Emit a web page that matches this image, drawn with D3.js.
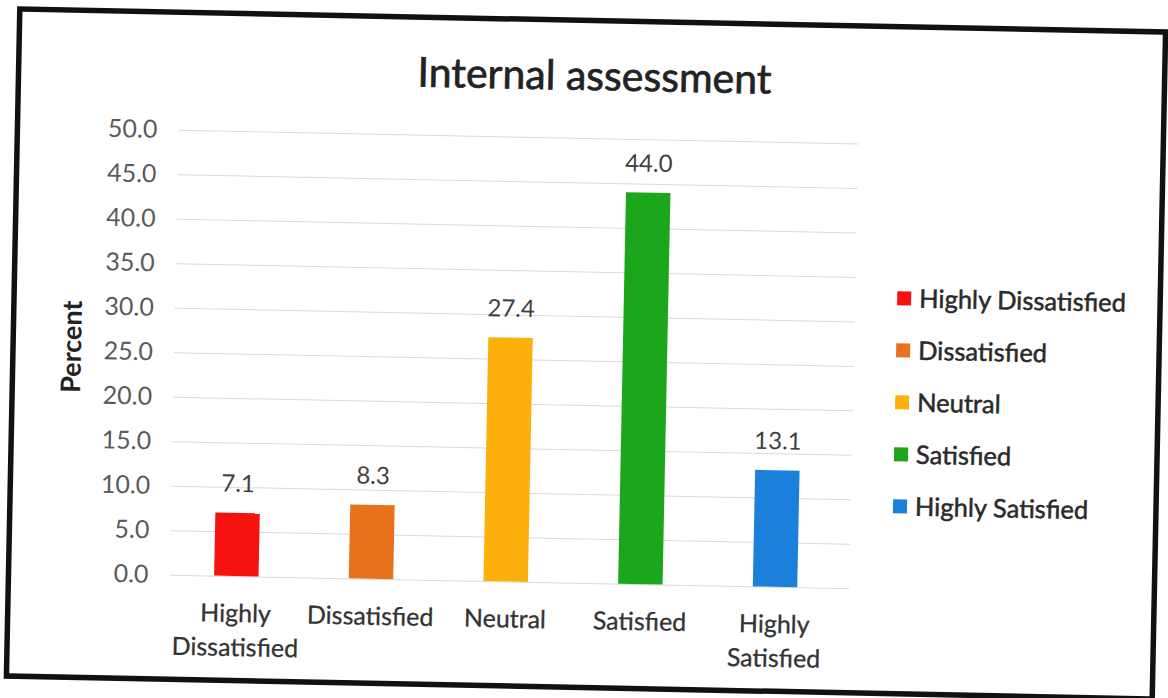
<!DOCTYPE html>
<html>
<head>
<meta charset="utf-8">
<script src="https://cdn.jsdelivr.net/npm/d3@7"></script>
<style>
  body { margin: 0; background: #fff; }
  text { font-family: Lato, "Liberation Sans", sans-serif; }
</style>
</head>
<body>
<div id="chart"></div>
<script>
// chart values
var categories = ["Highly Dissatisfied", "Dissatisfied", "Neutral", "Satisfied", "Highly Satisfied"];
var percents = [7.1, 8.3, 27.4, 44.0, 13.1];
var xLabelLines = [["Highly", "Dissatisfied"], ["Dissatisfied"], ["Neutral"], ["Satisfied"], ["Highly", "Satisfied"]];
var yTicks = [0, 5, 10, 15, 20, 25, 30, 35, 40, 45, 50];
var barColors = ["#f5120f", "#e8721c", "#fdb00c", "#1ba61b", "#1b80dc"];

var svgWidth = 1168;
var svgHeight = 698;

var plot = { left: 174, right: 854, top: 138, bottom: 583 };

var svg = d3.select("#chart")
  .append("svg")
  .attr("width", svgWidth)
  .attr("height", svgHeight);

// the scanned chart sits slightly tilted
var page = svg.append("g")
  .attr("transform", "rotate(1.15, 586, 354)");

page.append("rect")
  .attr("x", 13)
  .attr("y", 20.5)
  .attr("width", 1146)
  .attr("height", 667)
  .attr("fill", "#fff")
  .attr("stroke", "#111")
  .attr("stroke-width", 5.5);

page.append("text")
  .attr("x", 589)
  .attr("y", 90)
  .attr("text-anchor", "middle")
  .attr("font-size", 41)
  .attr("fill", "#222")
  .attr("stroke", "#222")
  .attr("stroke-width", 0.7)
  .text("Internal assessment");

// scales
var xScale = d3.scaleBand()
  .domain(categories)
  .range([173.5, 847])
  .paddingInner(0.67)
  .paddingOuter(0.335);

var yScale = d3.scaleLinear()
  .domain([0, 50])
  .range([plot.bottom, plot.top]);

// gridlines + tick labels
var yAxis = d3.axisLeft(yScale)
  .tickValues(yTicks)
  .tickFormat(d3.format(".1f"))
  .tickSize(-(plot.right - plot.left))
  .tickPadding(21);

var yAxisG = page.append("g")
  .attr("transform", `translate(${plot.left}, 0)`)
  .call(yAxis);

yAxisG.select(".domain").remove();
yAxisG.selectAll(".tick line")
  .attr("stroke", "#d9d9d9")
  .attr("stroke-width", 1);
yAxisG.selectAll(".tick text")
  .attr("font-family", "Lato, sans-serif")
  .attr("font-size", 25)
  .attr("fill", "#5a5a5a");

page.append("text")
  .attr("transform", "translate(81, 357) rotate(-90)")
  .attr("text-anchor", "middle")
  .attr("font-size", 27)
  .attr("font-weight", "bold")
  .attr("fill", "#222")
  .text("Percent");

// bars
page.selectAll("rect.bar")
  .data(categories)
  .enter()
  .append("rect")
  .attr("class", "bar")
  .attr("x", d => xScale(d))
  .attr("y", (d, i) => yScale(percents[i]))
  .attr("width", xScale.bandwidth())
  .attr("height", (d, i) => yScale(0) - yScale(percents[i]))
  .attr("fill", (d, i) => barColors[i]);

// value labels
page.selectAll("text.value")
  .data(categories)
  .enter()
  .append("text")
  .attr("class", "value")
  .attr("x", d => xScale(d) + xScale.bandwidth() / 2)
  .attr("y", (d, i) => yScale(percents[i]) - 21)
  .attr("text-anchor", "middle")
  .attr("font-size", 24)
  .attr("fill", "#404040")
  .text((d, i) => d3.format(".1f")(percents[i]));

// category labels
var catLabels = page.selectAll("text.cat")
  .data(categories)
  .enter()
  .append("text")
  .attr("class", "cat")
  .attr("text-anchor", "middle")
  .attr("font-size", 25)
  .attr("fill", "#333")
  .attr("stroke", "#333")
  .attr("stroke-width", 0.3);

catLabels.each(function(d, i) {
  var cx = xScale(d) + xScale.bandwidth() / 2;
  d3.select(this).selectAll("tspan")
    .data(xLabelLines[i])
    .enter()
    .append("tspan")
    .attr("x", cx)
    .attr("y", (line, j) => 629 + j * 34)
    .text(line => line);
});

// legend
var legend = page.selectAll("g.legend")
  .data(categories)
  .enter()
  .append("g")
  .attr("class", "legend")
  .attr("transform", (d, i) => `translate(896, ${292 + i * 52})`);

legend.append("rect")
  .attr("x", 0)
  .attr("y", -7)
  .attr("width", 14)
  .attr("height", 14)
  .attr("fill", (d, i) => barColors[i]);

legend.append("text")
  .attr("x", 22)
  .attr("y", 9)
  .attr("font-size", 25.5)
  .attr("fill", "#2a2a2a")
  .attr("stroke", "#2a2a2a")
  .attr("stroke-width", 0.5)
  .text(d => d);
</script>
</body>
</html>
